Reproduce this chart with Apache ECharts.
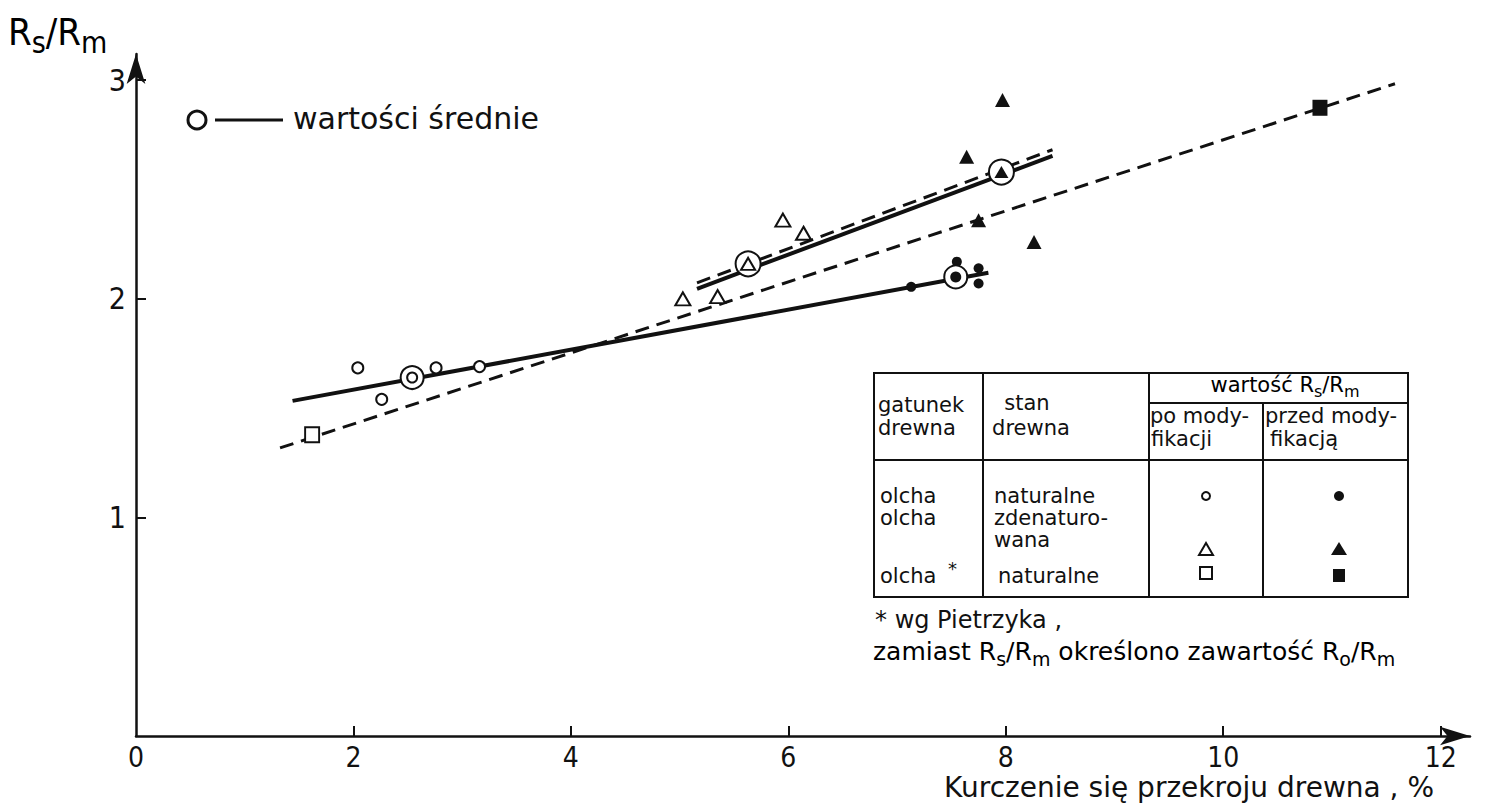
<!DOCTYPE html>
<html>
<head>
<meta charset="utf-8">
<script src="https://cdn.jsdelivr.net/npm/echarts@6/dist/echarts.min.js"></script>
<style>
html,body{margin:0;padding:0;background:#fff;}
#chart{width:1494px;height:804px;}
</style>
</head>
<body>
<div id="chart"></div>
<script>
// ---- data (x: Kurczenie %, y: Rs/Rm) ----
const xTickValues = [0, 2, 4, 6, 8, 10, 12];
const yTickValues = [1, 2, 3];

// olcha naturalne
const natPo = [[2.04, 1.684], [2.26, 1.54], [2.76, 1.684], [3.16, 1.69]];
const natPrzed = [[7.13, 2.055], [7.55, 2.17], [7.75, 2.14], [7.75, 2.07]];
const natMeanPo = [[2.54, 1.64]];
const natMeanPrzed = [[7.54, 2.10]];
const natFitLine = [[1.44, 1.533], [7.84, 2.119]];

// olcha zdenaturowana
const denPo = [[5.03, 2.0], [5.35, 2.01], [5.95, 2.36], [6.14, 2.30]];
const denPrzed = [[7.97, 2.91], [7.64, 2.65], [7.75, 2.36], [8.26, 2.26]];
const denMeanPo = [[5.63, 2.16]];
const denMeanPrzed = [[7.96, 2.58]];
const denFitSolid = [[5.16, 2.046], [8.43, 2.654]];
const denFitDashed = [[5.16, 2.073], [8.43, 2.682]];

// olcha* (wg Pietrzyka)
const pietPo = [[1.62, 1.378]];
const pietPrzed = [[10.89, 2.874]];
const pietFitLine = [[1.325, 1.318], [11.58, 2.984]];

// ---- styling ----
const fNum = "'Liberation Sans Narrow', 'DejaVu Sans Condensed', 'Roboto', sans-serif";
const fTxt = "'DejaVu Sans', sans-serif";
const K = '#111';

function lineSeries(data, dashed, width) {
  return {
    type: 'line', data: data, showSymbol: false, symbol: 'none', z: 1,
    lineStyle: {color: K, width: width || 3, type: dashed ? [14, 8] : 'solid', cap: 'butt'},
    silent: true, animation: false
  };
}
function pts(data, symbol, size, filled, z) {
  return {
    type: 'scatter', data: data, symbol: symbol, symbolSize: size, z: z || 3,
    itemStyle: {color: filled ? K : '#fff', borderColor: K, borderWidth: filled ? 0 : 2, opacity: 1},
    silent: true, animation: false
  };
}

function subRich(size) {
  return {
    n: {fontFamily: fTxt, fontSize: size, color: K, lineHeight: size + 2},
    s: {fontFamily: fTxt, fontSize: Math.round(size * 0.75), color: K, lineHeight: Math.round(size * 0.75), padding: [Math.round(size * 0.6), 0, 0, 0]}
  };
}

const graphics = [
  // legend "wartości średnie"
  {type: 'circle', shape: {cx: 197, cy: 120, r: 9}, style: {fill: '#fff', stroke: K, lineWidth: 3}},
  {type: 'line', shape: {x1: 215, y1: 120, x2: 283, y2: 120}, style: {stroke: K, lineWidth: 3}},
  {type: 'text', x: 293, y: 118, style: {text: 'wartości średnie', font: '30px ' + fTxt, fill: K, textAlign: 'left', textVerticalAlign: 'middle'}},
  // y axis name
  {type: 'text', x: 8, y: 32, style: {
    text: '{n|R}{s|s}{n|/R}{s|m}', textAlign: 'left', textVerticalAlign: 'middle',
    rich: {
      n: {fontFamily: fNum, fontSize: 38, color: K, lineHeight: 40},
      s: {fontFamily: fNum, fontSize: 30, color: K, lineHeight: 26, padding: [20, 0, 0, 0]}
    }
  }},
  // x axis name
  {type: 'text', x: 1434, y: 787, style: {text: 'Kurczenie się przekroju drewna , %', font: '28px ' + fTxt, fill: K, textAlign: 'right', textVerticalAlign: 'middle'}},

  // table frame
  {type: 'rect', shape: {x: 874, y: 373, width: 534, height: 224}, style: {fill: '#fff', stroke: K, lineWidth: 2}, z: 10},
  {type: 'line', shape: {x1: 983, y1: 373, x2: 983, y2: 597}, style: {stroke: K, lineWidth: 2}, z: 11},
  {type: 'line', shape: {x1: 1149, y1: 373, x2: 1149, y2: 597}, style: {stroke: K, lineWidth: 2}, z: 11},
  {type: 'line', shape: {x1: 1263, y1: 403, x2: 1263, y2: 597}, style: {stroke: K, lineWidth: 2}, z: 11},
  {type: 'line', shape: {x1: 1149, y1: 403, x2: 1408, y2: 403}, style: {stroke: K, lineWidth: 2}, z: 11},
  {type: 'line', shape: {x1: 874, y1: 460, x2: 1408, y2: 460}, style: {stroke: K, lineWidth: 2}, z: 11},
];

function t(x, y, s, align, size) {
  graphics.push({type: 'text', x: x, y: y, z: 12, style: {text: s, font: (size || 21) + 'px ' + fTxt, fill: K, textAlign: align || 'left', textVerticalAlign: 'middle'}});
}
t(878, 405, 'gatunek'); t(878, 428, 'drewna');
t(1027, 403, 'stan', 'center'); t(1031, 428, 'drewna', 'center');
graphics.push({type: 'text', x: 1285, y: 385, z: 12, style: {text: '{n|wartość R}{s|s}{n|/R}{s|m}', textAlign: 'center', textVerticalAlign: 'middle', rich: subRich(21)}});
t(1150, 416, 'po mody-'); t(1151, 439, 'fikacji');
t(1265, 416, 'przed mody-'); t(1270, 439, 'fikacją');
t(880, 496, 'olcha'); t(994, 496, 'naturalne');
t(880, 518, 'olcha'); t(994, 518, 'zdenaturo-'); t(994, 540, 'wana');
t(880, 576, 'olcha'); t(948, 568, '*', 'left', 18); t(998, 576, 'naturalne');
t(875, 620, '* wg Pietrzyka ,', 'left', 24);
graphics.push({type: 'text', x: 873, y: 651, z: 12, style: {text: '{n|zamiast R}{s|s}{n|/R}{s|m}{n| określono zawartość R}{s|o}{n|/R}{s|m}', textAlign: 'left', textVerticalAlign: 'middle', rich: subRich(25)}});
// table symbols
graphics.push({type: 'circle', z: 12, shape: {cx: 1206, cy: 496, r: 4}, style: {fill: '#fff', stroke: K, lineWidth: 2}});
graphics.push({type: 'circle', z: 12, shape: {cx: 1339, cy: 496, r: 5}, style: {fill: K}});
graphics.push({type: 'polygon', z: 12, shape: {points: [[1206, 543], [1199, 555], [1213, 555]]}, style: {fill: '#fff', stroke: K, lineWidth: 2}});
graphics.push({type: 'polygon', z: 12, shape: {points: [[1339, 542], [1331, 555], [1347, 555]]}, style: {fill: K}});
graphics.push({type: 'rect', z: 12, shape: {x: 1200, y: 567, width: 12, height: 12}, style: {fill: '#fff', stroke: K, lineWidth: 2}});
graphics.push({type: 'rect', z: 12, shape: {x: 1333, y: 569, width: 12, height: 13}, style: {fill: K}});

const option = {
  backgroundColor: '#fff',
  animation: false,
  grid: {left: 136, right: 24, top: 54, bottom: 68, containLabel: false, outerBoundsMode: 'none'},
  xAxis: {
    type: 'value', min: 0, max: 12.27, interval: 2,
    axisLine: {show: true, onZero: false, lineStyle: {color: K, width: 2.5}, symbol: ['none', 'arrow'], symbolSize: [14, 30]},
    axisTick: {show: true, inside: true, length: 10, lineStyle: {color: K, width: 2}, customValues: xTickValues.filter(v => v > 0)},
    axisLabel: {show: true, customValues: xTickValues, margin: 7, fontFamily: fNum, fontSize: 28, lineHeight: 28, color: K},
    splitLine: {show: false}
  },
  yAxis: {
    type: 'value', min: 0, max: 3.12, interval: 1,
    axisLine: {show: true, onZero: false, lineStyle: {color: K, width: 2.5}, symbol: ['none', 'arrow'], symbolSize: [14, 30]},
    axisTick: {show: true, inside: true, length: 10, lineStyle: {color: K, width: 2}, customValues: yTickValues},
    axisLabel: {show: true, customValues: yTickValues, margin: 10, fontFamily: fNum, fontSize: 30, color: K},
    splitLine: {show: false}
  },
  graphic: graphics,
  series: [
    lineSeries(natFitLine, false, 4),
    lineSeries(denFitSolid, false, 4),
    lineSeries(denFitDashed, true, 3),
    lineSeries(pietFitLine, true, 3),
    pts(natPo, 'circle', 11, false),
    pts(natPrzed, 'circle', 10, true),
    pts(denPo, 'triangle', [15, 13], false),
    pts(denPrzed, 'triangle', [15, 14], true),
    pts(pietPo, 'rect', [14, 15], false),
    pts(pietPrzed, 'rect', [15, 16], true),
    // mean rings
    pts(natMeanPo, 'circle', 23, false, 4),
    pts(natMeanPrzed, 'circle', 23, false, 4),
    pts(denMeanPo, 'circle', 25, false, 4),
    pts(denMeanPrzed, 'circle', 25, false, 4),
    // mean inner symbols
    pts(natMeanPo, 'circle', 10, false, 5),
    pts(natMeanPrzed, 'circle', 11, true, 5),
    pts(denMeanPo, 'triangle', [14, 12], false, 5),
    pts(denMeanPrzed, 'triangle', [14, 12], true, 5)
  ]
};

const chart = echarts.init(document.getElementById('chart'), null, {renderer: 'svg'});
chart.setOption(option);
</script>
</body>
</html>
